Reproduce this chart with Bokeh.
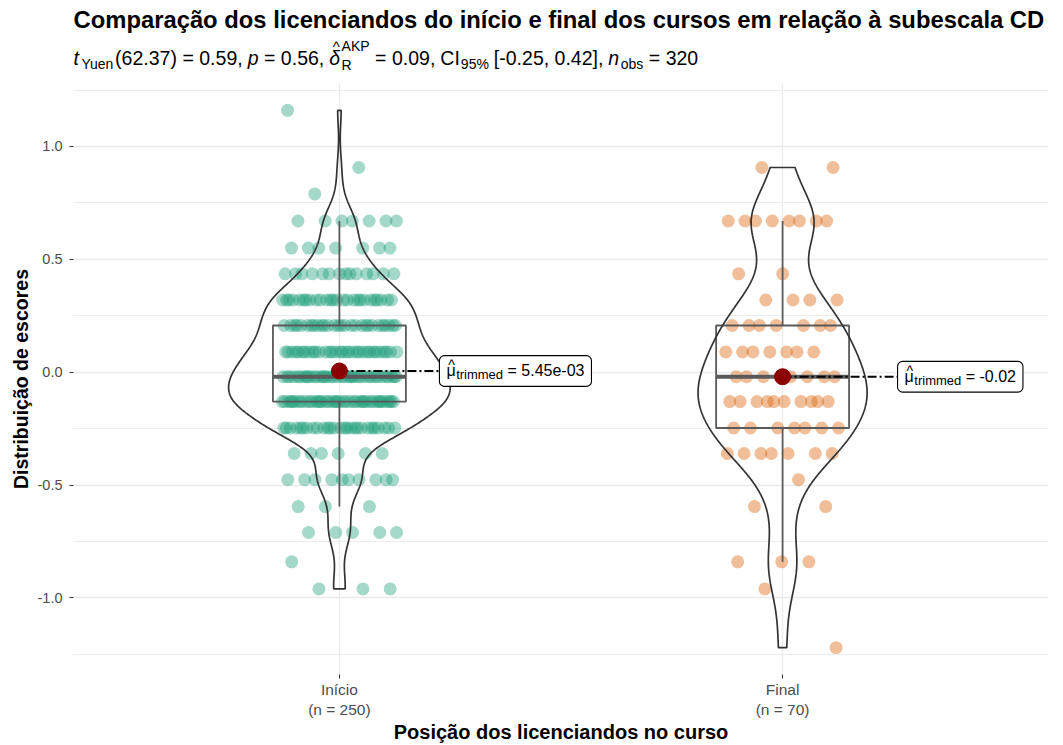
import numpy as np
from bokeh.plotting import figure
from bokeh.layouts import column
from bokeh.models import FixedTicker, PrintfTickFormatter, Label, BoxAnnotation
from bokeh.embed import file_html
from bokeh.resources import INLINE

# ---------------- data ----------------
title_text = "Comparação dos licenciandos do início e final dos cursos em relação à subescala CD"
x_title = "Posição dos licenciandos no curso"
y_title = "Distribuição de escores"
groups = ["Início", "Final"]
group_n = [250, 70]
x_tick_labels = ["Início\n(n = 250)", "Final\n(n = 70)"]
score_levels = [1.16, 0.907, 0.79, 0.67, 0.55, 0.436, 0.32, 0.207, 0.09, -0.02,
                -0.13, -0.247, -0.36, -0.476, -0.595, -0.71, -0.84, -0.96, -1.22]
count_inicio = [1, 1, 1, 7, 7, 14, 26, 28, 32, 38, 40, 27, 6, 10, 3, 5, 1, 3, 0]
count_final = [0, 2, 0, 8, 0, 2, 4, 7, 7, 8, 10, 7, 7, 1, 2, 0, 3, 1, 1]
trimmed_means = [0.00545, -0.02]
mean_labels = ["5.45e-03", "-0.02"]
y_ticks = [-1.0, -0.5, 0.0, 0.5, 1.0]
y_minor_ticks = [-1.25, -0.75, -0.25, 0.25, 0.75, 1.25]
colors = ["#1B9E77", "#D95F02"]
# subtitle statistics
t_df, t_val, p_val, es_val, ci_text, n_obs = "62.37", "0.59", "0.56", "0.09", "[-0.25, 0.42]", "320"

FONT = "Liberation Sans"
TOTAL_W = 1063
HEAD_H = 83
MAIN_H = 662
BL, BR, BB = 73, 15, 67
FW = TOTAL_W - BL - BR          # 975
FH = MAIN_H - BB

# ---------------- expand observations ----------------
obs = [np.repeat(score_levels, count_inicio), np.repeat(score_levels, count_final)]
allv = np.concatenate(obs)
span = allv.max() - allv.min()
ymin, ymax = allv.min() - 0.05 * span, allv.max() + 0.05 * span
xu = 2.2 / FW                 # data units per px (x)
yu = (ymax - ymin) / FH       # data units per px (y)

p = figure(width=TOTAL_W, height=MAIN_H, x_range=(0.4, 2.6), y_range=(ymin, ymax),
           output_backend="svg", toolbar_location=None, title=None,
           min_border_left=BL, min_border_right=BR, min_border_top=0, min_border_bottom=BB)
p.outline_line_color = None
p.background_fill_color = "white"
p.border_fill_color = "white"

# axes
p.xaxis.ticker = FixedTicker(ticks=[1, 2])
p.xaxis.major_label_overrides = {1: x_tick_labels[0], 2: x_tick_labels[1]}
p.yaxis.ticker = FixedTicker(ticks=y_ticks, minor_ticks=y_minor_ticks)
p.yaxis.formatter = PrintfTickFormatter(format="%.1f")
for ax in (p.xaxis[0], p.yaxis[0]):
    ax.axis_line_color = None
    ax.major_tick_line_color = "#333333"
    ax.major_tick_out = 4
    ax.major_tick_in = 0
    ax.minor_tick_line_color = None
    ax.major_label_text_color = "#4D4D4D"
    ax.major_label_text_font = FONT
    ax.axis_label_text_font = FONT
    ax.axis_label_text_font_style = "bold"
    ax.axis_label_text_color = "black"
p.xaxis.major_label_text_font_size = "15.5px"
p.yaxis.major_label_text_font_size = "14.5px"
p.xaxis.major_label_standoff = 2
p.yaxis.major_label_standoff = 7
p.yaxis.axis_label = y_title
p.yaxis.axis_label_text_font_size = "19.5px"
p.yaxis.axis_label_standoff = 3
p.xaxis.axis_label = x_title
p.xaxis.axis_label_text_font_size = "20px"
p.xaxis.axis_label_standoff = 0

p.xgrid.grid_line_color = "#EBEBEB"
p.xgrid.grid_line_width = 1.3
p.ygrid.grid_line_color = "#EBEBEB"
p.ygrid.grid_line_width = 1.3
p.ygrid.minor_grid_line_color = "#EBEBEB"
p.ygrid.minor_grid_line_width = 0.9

# ---------------- points (deterministic jitter) ----------------
phi = 0.6180339887
for gi, vals in enumerate(obs):
    c = gi + 1
    k = np.arange(len(vals))
    off = 0.13 * (2 * ((0.05 + k * phi + 0.27 * gi) % 1.0) - 1)
    p.scatter(c + off, vals, size=13, fill_color=colors[gi], fill_alpha=0.4, line_color=None)

# ---------------- boxplots ----------------
for gi, vals in enumerate(obs):
    c = gi + 1
    q1, med, q3 = np.percentile(vals, [25, 50, 75])
    iqr = q3 - q1
    upper = vals[vals <= q3 + 1.5 * iqr].max()
    lower = vals[vals >= q1 - 1.5 * iqr].min()
    p.quad(left=[c - 0.15], right=[c + 0.15], bottom=[q1], top=[q3],
           fill_color=None, line_color="#5A5A5A", line_width=1.8)
    p.segment(x0=[c, c], y0=[q3, q1], x1=[c, c], y1=[upper, lower],
              line_color="#5A5A5A", line_width=1.8)
    p.segment(x0=[c - 0.15], y0=[med], x1=[c + 0.15], y1=[med],
              line_color="#5A5A5A", line_width=4)

# ---------------- violins (gaussian KDE, bw.nrd0, scale = area) ----------------
dens = []
for vals in obs:
    n = len(vals)
    q1, q3 = np.percentile(vals, [25, 75])
    lo = min(np.std(vals, ddof=1), (q3 - q1) / 1.34)
    bw = 0.9 * lo * n ** (-0.2)
    grid = np.linspace(vals.min(), vals.max(), 512)
    d = np.exp(-0.5 * ((grid[:, None] - vals[None, :]) / bw) ** 2).sum(axis=1) / (n * bw * np.sqrt(2 * np.pi))
    dens.append((grid, d))
dmax = max(d.max() for _, d in dens)
for gi, (grid, d) in enumerate(dens):
    c = gi + 1
    hw = 0.25 * d / dmax
    xs = np.concatenate([c + hw, (c - hw)[::-1]])
    ys = np.concatenate([grid, grid[::-1]])
    p.patch(xs, ys, fill_color=None, line_color="#333333", line_width=1.7)

# ---------------- mean markers and labels ----------------
W = {' ': 278, '(': 333, ')': 333, '.': 278, ',': 278, '=': 584, '-': 333, '[': 278, ']': 278,
     '%': 889, 'C': 722, 'I': 278, 't': 278, 'Y': 667, 'u': 556, 'e': 556, 'n': 556, 'p': 556,
     'o': 556, 'b': 556, 's': 500, 'A': 667, 'K': 667, 'P': 667, 'R': 722, 'δ': 556, 'μ': 576,
     'r': 333, 'i': 222, 'm': 833, 'd': 556, '^': 469}


def tw(s, size):
    return sum(W.get(ch, 556) for ch in s) * size / 1000.0


box_left_px = [100, 115]
MS, SS, PAD = 16, 13, 7
for gi in range(2):
    c = gi + 1
    m = trimmed_means[gi]
    bl = box_left_px[gi]
    rest = "= " + mean_labels[gi]
    bw_px = PAD + tw("μ", MS) + 0.5 + tw("trimmed", SS) + tw(" ", MS) + tw(rest, MS) + PAD
    p.segment(x0=[c], y0=[m], x1=[c + bl * xu], y1=[m], line_color="black",
              line_width=1.8, line_dash="9 3 2 3")
    p.add_layout(BoxAnnotation(left=c + bl * xu, right=c + (bl + bw_px) * xu,
                               bottom=m - 15.5 * yu, top=m + 15.5 * yu,
                               fill_color="white", fill_alpha=1, line_color="black",
                               line_alpha=1, line_width=1.1, border_radius=5))
    x0 = bl + PAD
    p.add_layout(Label(x=c, y=m, x_offset=x0, y_offset=0, text="μ",
                       text_baseline="middle",
                       text_font=FONT, text_font_size=f"{MS}px", text_color="black"))
    p.add_layout(Label(x=c, y=m, x_offset=x0 + (tw("μ", MS) - tw("^", 14)) / 2 + 0.5, y_offset=5.5,
                       text="^", text_baseline="middle",
                       text_font=FONT, text_font_size="14px", text_color="black"))
    x0 += tw("μ", MS) + 0.5
    p.add_layout(Label(x=c, y=m, x_offset=x0, y_offset=-4, text="trimmed",
                       text_baseline="middle",
                       text_font=FONT, text_font_size=f"{SS}px", text_color="black"))
    x0 += tw("trimmed", SS) + tw(" ", MS)
    p.add_layout(Label(x=c, y=m, x_offset=x0, y_offset=0, text=rest,
                       text_baseline="middle",
                       text_font=FONT, text_font_size=f"{MS}px", text_color="black"))

p.scatter([1, 2], trimmed_means, size=16, fill_color="#8B0000", line_color="#8B0000")

# ---------------- header (title + subtitle) ----------------
# header frame is aligned with the main frame: x data = page px - BL, y data = HEAD_H - page px
h = figure(width=TOTAL_W, height=HEAD_H, x_range=(0, FW), y_range=(0, HEAD_H),
           output_backend="svg", toolbar_location=None, title=None,
           x_axis_type=None, y_axis_type=None,
           min_border_left=BL, min_border_right=BR, min_border_top=0, min_border_bottom=0)
h.outline_line_color = None
h.grid.visible = False
h.background_fill_color = "white"
h.border_fill_color = "white"


def hx(page_x):
    return page_x - BL


def hy(page_y):
    return HEAD_H - page_y


h.add_layout(Label(x=hx(73), y=hy(19), text=title_text, text_font=FONT, text_font_size="23.8px",
                   text_font_style="bold", text_color="black", text_baseline="middle"))

S, s = 19.5, 14
MAIN_Y, SUB_Y, RSUB_Y, SUP_Y, HAT_Y = hy(57), hy(63.5), hy(64.5), hy(45), hy(45.5)
seq = [
    ("t", "i"), (2.5,), ("Yuen", "sub"), (1,),
    ("(" + t_df + ")", "m"), (5.5,), ("=", "m"), (5.5,), (t_val + ",", "m"), (5,),
    ("p", "i"), (5.5,), ("=", "m"), (5.5,), (p_val + ",", "m"), (5,),
    ("δ", "ihat"), (1.5,), (("R", "AKP"), "subsup"), (5.5,), ("=", "m"), (5.5,), (es_val + ",", "m"), (5,),
    ("CI", "m"), (1,), ("95%", "sub"), (5,), (ci_text + ",", "m"), (5,),
    ("n", "i"), (1.5,), ("obs", "sub"), (5.5,), ("=", "m"), (5.5,), (n_obs, "m"),
]


def hlabel(x, y, txt, size, style="normal"):
    h.add_layout(Label(x=x, y=y, text=txt, text_font=FONT, text_font_size=f"{size}px",
                       text_color="black", text_baseline="middle", text_font_style=style))


xcur = float(hx(73))
for item in seq:
    if len(item) == 1:
        xcur += item[0]
        continue
    txt, kind = item
    if kind in ("m", "i", "ihat"):
        hlabel(xcur, MAIN_Y, txt, S, "normal" if kind == "m" else "italic")
        if kind == "ihat":
            hlabel(xcur + (tw(txt, S) - tw("^", 15)) / 2 + 1.5, HAT_Y, "^", 15)
        xcur += tw(txt, S)
    elif kind == "sub":
        hlabel(xcur, SUB_Y, txt, s)
        xcur += tw(txt, s)
    else:
        sb, sp = txt
        hlabel(xcur, RSUB_Y, sb, s)
        hlabel(xcur, SUP_Y, sp, s)
        xcur += max(tw(sb, s), tw(sp, s))

layout = column(h, p, spacing=0)
open("out.html", "w").write(file_html(layout, INLINE))
